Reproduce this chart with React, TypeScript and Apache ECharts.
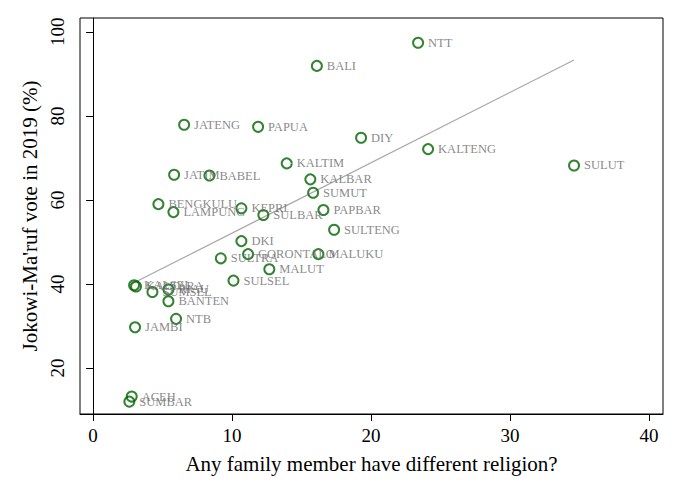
import React, { useEffect, useRef } from "react";
import * as echarts from "echarts";

const provinces = [
  "NTT", "BALI", "JATENG", "PAPUA", "DIY", "KALTENG", "SULUT", "KALTIM", "KALBAR", "SUMUT",
  "PAPBAR", "SULTENG", "SULBAR", "JATIM", "BABEL", "BENGKULU", "LAMPUNG", "KEPRI", "DKI", "GORONTALO",
  "SULTRA", "MALUKU", "MALUT", "SULSEL", "KALSEL", "KALTARA", "SUMSEL", "RIAU", "BANTEN", "NTB",
  "JAMBI", "ACEH", "SUMBAR",
];
const diffReligion = [
  23.38, 16.1, 6.55, 11.87, 19.28, 24.1, 34.6, 13.93, 15.63, 15.83,
  16.57, 17.34, 12.25, 5.83, 8.37, 4.7, 5.78, 10.67, 10.67, 11.15,
  9.19, 16.21, 12.68, 10.1, 2.95, 3.09, 4.27, 5.42, 5.42, 5.97,
  3.02, 2.78, 2.61,
];
const jokowiVote = [
  97.4, 91.9, 77.9, 77.4, 74.8, 72.1, 68.2, 68.7, 64.9, 61.7,
  57.6, 52.9, 56.4, 66.0, 65.8, 59.0, 57.1, 58.0, 50.2, 47.1,
  46.1, 47.1, 43.5, 40.8, 39.7, 39.4, 38.1, 38.7, 35.9, 31.7,
  29.7, 13.2, 12.0,
];
const fitX = [2.66, 34.6];
const fitY = [39.8, 93.3];
const xTicks = [0, 10, 20, 30, 40];
const yTicks = [20, 40, 60, 80, 100];

const FONT = "'Liberation Serif', 'DejaVu Serif', serif";

export default function App() {
  const ref = useRef<HTMLDivElement>(null);
  useEffect(() => {
    document.body.style.margin = "0";
    if (!ref.current) return;
    const chart = echarts.init(ref.current, undefined, { renderer: "svg" });
    const points = provinces.map((p, i) => [diffReligion[i], jokowiVote[i], p]);
    chart.setOption({
      animation: false,
      backgroundColor: "#fff",
      grid: {
        left: 80,
        top: 18,
        right: 17,
        bottom: 81,
        show: true,
        borderColor: "#000",
        borderWidth: 1,
        backgroundColor: "transparent",
      },
      xAxis: {
        type: "value",
        min: -0.94,
        max: 41,
        axisLine: { show: true, lineStyle: { color: "#000", width: 1 } },
        axisTick: { show: true, length: 7, customValues: xTicks, lineStyle: { color: "#000" } },
        axisLabel: {
          customValues: xTicks,
          color: "#000",
          fontSize: 19,
          fontFamily: FONT,
          margin: 12,
        },
        splitLine: { show: false },
        name: "Any family member have different religion?",
        nameLocation: "middle",
        nameGap: 39,
        nameTextStyle: { color: "#000", fontSize: 21, fontFamily: FONT },
      },
      yAxis: {
        type: "value",
        min: 9.05,
        max: 103.3,
        axisLine: { show: true, lineStyle: { color: "#000", width: 1 } },
        axisTick: { show: true, length: 7, customValues: yTicks, lineStyle: { color: "#000" } },
        axisLabel: {
          customValues: yTicks,
          color: "#000",
          fontSize: 19,
          fontFamily: FONT,
          rotate: 90,
          margin: 13,
        },
        splitLine: { show: false },
        name: "Jokowi-Ma'ruf vote in 2019 (%)",
        nameLocation: "middle",
        nameGap: 38,
        nameTextStyle: { color: "#000", fontSize: 21, fontFamily: FONT },
      },
      series: [
        {
          type: "line",
          data: fitX.map((x, i) => [x, fitY[i]]),
          symbol: "none",
          lineStyle: { color: "#a8a8a8", width: 1.2 },
          z: 1,
          silent: true,
        },
        {
          type: "scatter",
          data: points,
          symbol: "circle",
          symbolSize: 10,
          clip: false,
          itemStyle: { color: "rgba(0,0,0,0)", borderColor: "#006400", borderWidth: 2 },
          label: {
            show: true,
            position: "right",
            distance: 4,
            formatter: (p: any) => p.data[2],
            color: "#6a6a6a",
            fontSize: 12.5,
            fontFamily: FONT,
          },
          z: 2,
        },
      ],
    });
    return () => chart.dispose();
  }, []);
  return <div ref={ref} style={{ width: 680, height: 495 }} />;
}
